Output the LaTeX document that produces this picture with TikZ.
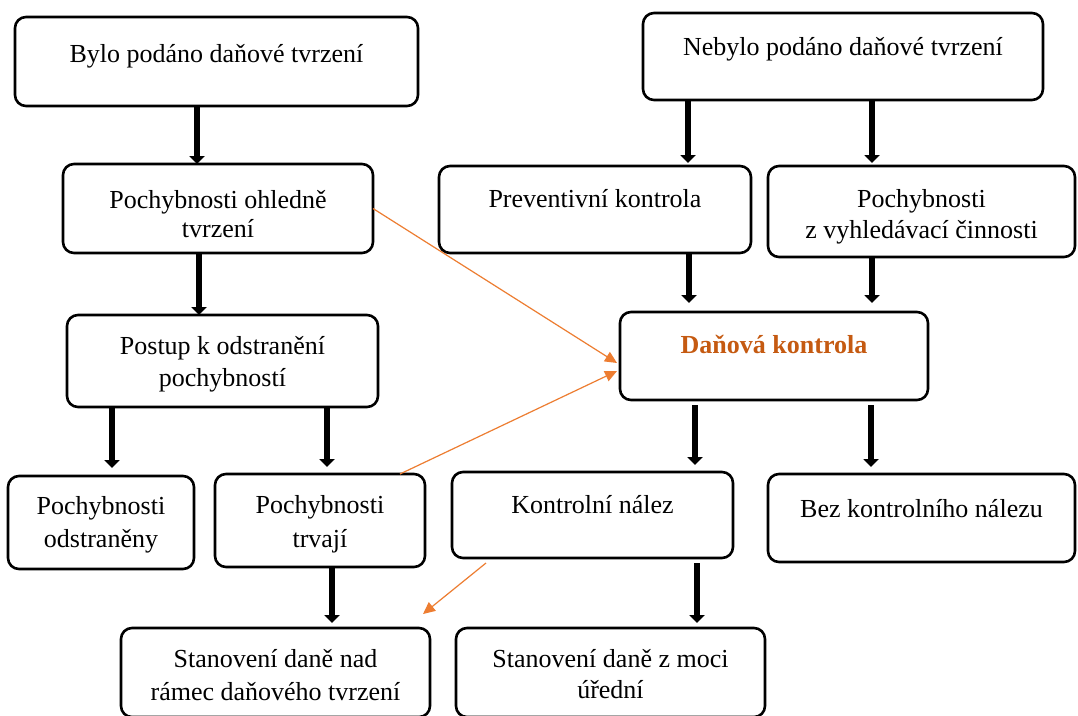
\documentclass[tikz,border=0pt]{standalone}
\usepackage{fontspec}
\setmainfont{Liberation Serif}
\usetikzlibrary{arrows.meta,calc}

\definecolor{accentorange}{HTML}{ED7D31}
\definecolor{darkorange}{HTML}{C55A11}

% box text: width, height, first-baseline depth, line spacing, content (top aligned)
\newcommand{\boxlabel}[5]{%
  \parbox[c][#2][t]{#1}{\baselineskip=#4\relax\centering\rule{0pt}{#3}#5\par}}

\begin{document}
\begin{tikzpicture}[x=1pt,y=-1pt,
  every node/.style={font=\fontsize{26}{31}\selectfont},
  flowbox/.style={draw, line width=2.6pt, rounded corners=11pt,
    inner sep=0pt, outer sep=0pt, fill=white},
  blackarrow/.style={line width=6pt, -{Triangle[length=8pt,width=15pt]}},
  orangearrow/.style={draw=accentorange, line width=1.2pt,
    -{Triangle[length=12pt,width=11pt]}, color=accentorange}]

\useasboundingbox[fill=white] (0,0) rectangle (1078,715);

% left branch
\node[flowbox] (b1) at (216.5,61.5)
  {\boxlabel{403pt}{89pt}{45pt}{31pt}{Bylo podáno daňové tvrzení}};
\node[flowbox] (b2) at (218,208.5)
  {\boxlabel{310pt}{89pt}{44pt}{29pt}{Pochybnosti ohledně\\tvrzení}};
\node[flowbox] (po) at (222.5,361)
  {\boxlabel{311pt}{92pt}{39pt}{32pt}{Postup k odstranění\\pochybností}};
\node[flowbox] (od) at (101,522.5)
  {\boxlabel{186pt}{93pt}{38pt}{33pt}{Pochybnosti\\odstraněny}};
\node[flowbox] (tr) at (320,520.5)
  {\boxlabel{210pt}{93pt}{39pt}{34pt}{Pochybnosti\\trvají}};
\node[flowbox] (sn) at (275.5,672.5)
  {\boxlabel{309pt}{89pt}{39pt}{33pt}{Stanovení daně nad\\rámec daňového tvrzení}};

% right branch
\node[flowbox] (nb) at (843,56.5)
  {\boxlabel{400pt}{87pt}{42pt}{31pt}{Nebylo podáno daňové tvrzení}};
\node[flowbox] (pk) at (595,209.5)
  {\boxlabel{312pt}{87pt}{41pt}{31pt}{Preventivní kontrola}};
\node[flowbox] (zv) at (921.5,211.5)
  {\boxlabel{307pt}{91pt}{41pt}{31pt}{Pochybnosti\\z vyhledávací činnosti}};
\node[flowbox] (dk) at (774,356)
  {\boxlabel{308pt}{88pt}{41pt}{31pt}{\textcolor{darkorange}{\bfseries Daňová kontrola}}};
\node[flowbox] (kn) at (592.5,515)
  {\boxlabel{281pt}{86pt}{41pt}{31pt}{Kontrolní nález}};
\node[flowbox] (bk) at (921.5,518)
  {\boxlabel{307pt}{88pt}{43pt}{31pt}{Bez kontrolního nálezu}};
\node[flowbox] (sm) at (610.5,672.5)
  {\boxlabel{309pt}{89pt}{39pt}{31pt}{Stanovení daně z moci\\úřední}};

% black flow arrows
\draw[blackarrow] (197,0 |- b1.south) -- (197,0 |- b2.north);
\draw[blackarrow] (199,0 |- b2.south) -- (199,0 |- po.north);
\draw[blackarrow, shorten >=8pt] (112,0 |- po.south) -- (112,0 |- od.north);
\draw[blackarrow, shorten >=7pt] (327,0 |- po.south) -- (327,0 |- tr.north);
\draw[blackarrow, shorten >=5pt] (332,0 |- tr.south) -- (332,0 |- sn.north);

\draw[blackarrow, shorten >=3pt] (688,0 |- nb.south) -- (688,0 |- pk.north);
\draw[blackarrow, shorten >=3pt] (872,0 |- nb.south) -- (872,0 |- zv.north);
\draw[blackarrow, shorten >=9pt] (689,0 |- pk.south) -- (689,0 |- dk.north);
\draw[blackarrow, shorten >=9pt] (872,0 |- zv.south) -- (872,0 |- dk.north);
\draw[blackarrow, shorten <=5pt, shorten >=7pt] (695,0 |- dk.south) -- (695,0 |- kn.north);
\draw[blackarrow, shorten <=5pt, shorten >=7pt] (871,0 |- dk.south) -- (871,0 |- bk.north);
\draw[blackarrow, shorten <=5pt, shorten >=5pt] (697,0 |- kn.south) -- (697,0 |- sm.north);

% orange cross links
\coordinate (snend) at ($(sn.north east)+(-7,-14)$);
\draw[orangearrow] (b2.east) -- ($(dk.west)+(-3,7)$);
\draw[orangearrow] ($(tr.north east)+(-25,0)$) -- ($(dk.west)+(-3,15)$);
\draw[orangearrow] ($(kn.south west)+(34,5)$) -- (snend);

\end{tikzpicture}
\end{document}
